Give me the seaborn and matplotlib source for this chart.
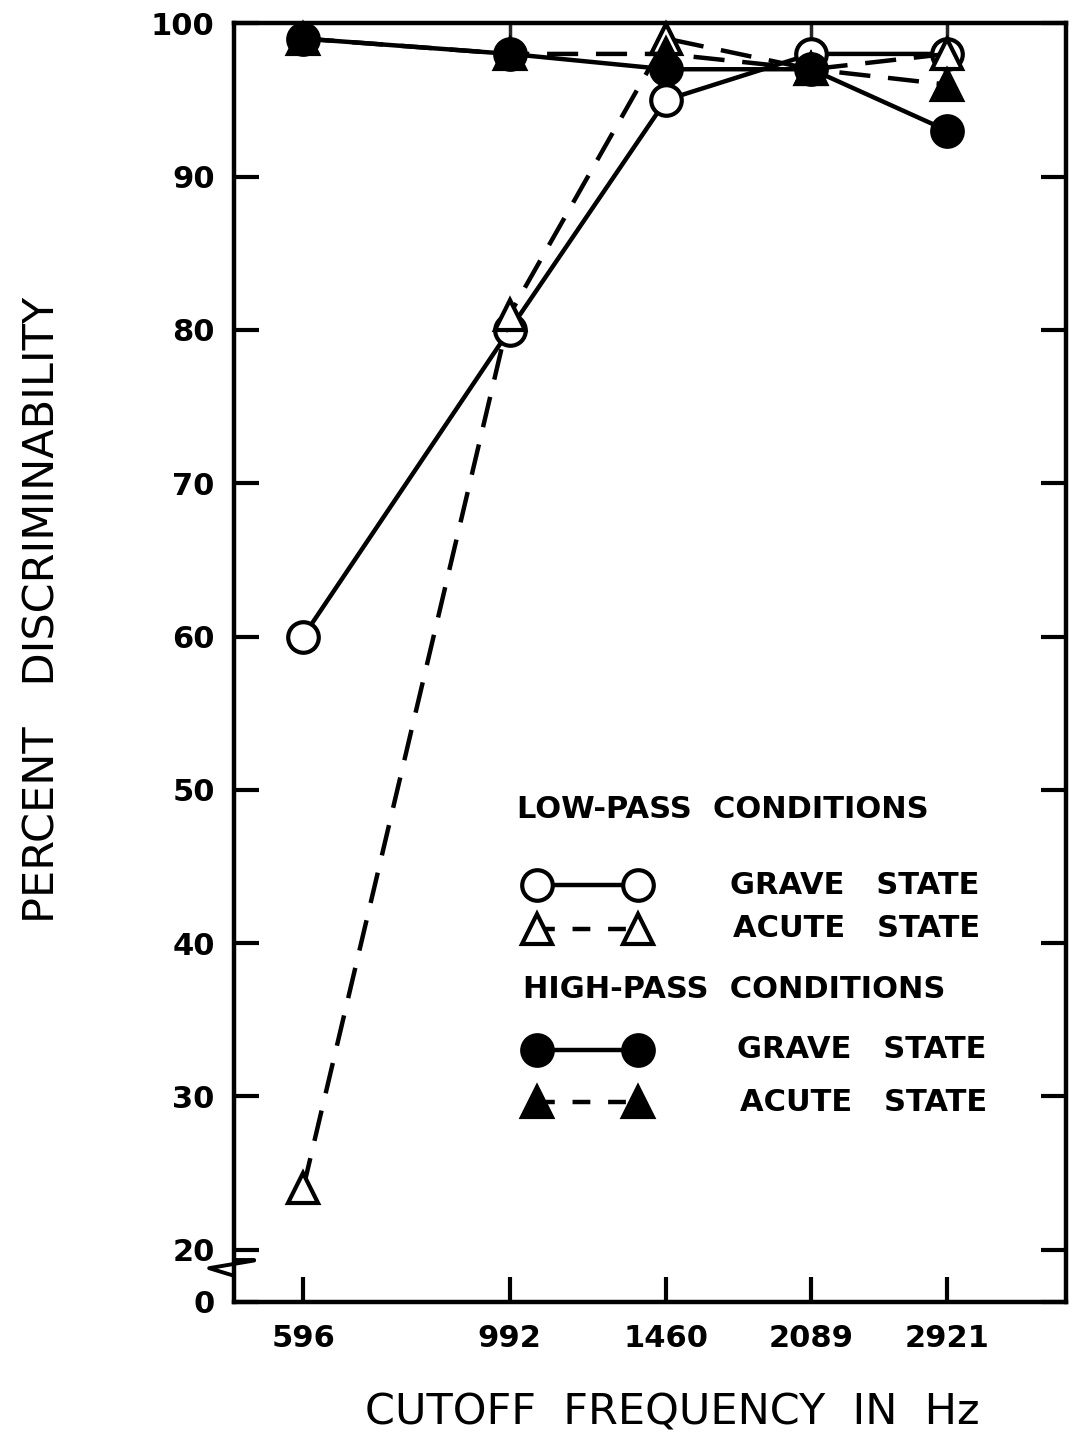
import numpy as np
import pandas as pd
import seaborn as sns
import matplotlib
matplotlib.use("Agg")
import matplotlib.pyplot as plt

# Cutoff frequencies (Hz) and percent discriminability per condition
freq = [596, 992, 1460, 2089, 2921]
low_grave = [60, 80, 95, 98, 98]
low_acute = [24, 81, 99, 97, 98]
high_grave = [99, 98, 97, 97, 93]
high_acute = [99, 98, 98, 97, 96]

y_ticks = [20, 30, 40, 50, 60, 70, 80, 90, 100]
y_zero_pos = 16.6  # where the broken axis shows "0"

sns.set_theme(style="white")
plt.rcParams["font.family"] = ["DejaVu Sans"]

fig = plt.figure(figsize=(10.74, 14.53), dpi=100)
ax = fig.add_axes([0.218, 0.104, 0.7746, 0.880])

LW = 3.2
MS = 22
DASH = (0, (7, 4))
series = [
    (low_grave, "o", "white", "-"),
    (low_acute, "^", "white", DASH),
    (high_grave, "o", "black", "-"),
    (high_acute, "^", "black", DASH),
]
for vals, mk, face, ls in series:
    df = pd.DataFrame({"freq": freq, "pct": vals})
    sns.lineplot(data=df, x="freq", y="pct", ax=ax, color="black",
                 linewidth=LW, linestyle=ls, marker=mk, markersize=MS,
                 markerfacecolor=face, markeredgecolor="black",
                 markeredgewidth=3, clip_on=False, zorder=3)

ax.set_xscale("log")
ax.set_xlim(502.6, 3917)
ax.set_ylim(y_zero_pos, 100)
ax.set_xticks(freq)
ax.set_xticklabels([str(f) for f in freq])
ax.xaxis.set_minor_locator(matplotlib.ticker.NullLocator())
ax.set_yticks([y_zero_pos] + y_ticks)
ax.set_yticklabels(["0"] + [str(v) for v in y_ticks])
ax.set_xlabel("")
ax.set_ylabel("")

for s in ax.spines.values():
    s.set_visible(True)
    s.set_color("black")
    s.set_linewidth(3.2)

ax.tick_params(axis="y", direction="in", length=18, width=3, left=True,
               right=True, labelsize=22, pad=14, colors="black")
ax.tick_params(axis="x", direction="in", length=18, width=3, bottom=True,
               top=False, labelsize=22, pad=16, colors="black")
for lab in ax.get_xticklabels() + ax.get_yticklabels():
    lab.set_fontweight("bold")

# short ticks hanging from the top border
top = ax.secondary_xaxis("top")
top.set_xticks(freq)
top.xaxis.set_minor_locator(matplotlib.ticker.NullLocator())
top.tick_params(direction="in", length=11, width=2.5, labeltop=False)
top.spines["top"].set_visible(False)

# axis break mark between 0 and 20
yt = ax.get_yaxis_transform()
ax.plot([0.0, 0.024], [19.3, 19.3], transform=yt, color="black",
        linewidth=2.8, clip_on=False)
ax.plot([0.024, -0.03, 0.0], [19.3, 18.8, 18.3], transform=yt,
        color="black", linewidth=2.8, clip_on=False)

# legend block
TF = dict(transform=ax.transAxes, fontsize=22, fontweight="bold",
          va="center", ha="left", color="black")
ax.text(0.340, 0.385, "LOW-PASS  CONDITIONS", **TF)
ax.text(0.347, 0.244, "HIGH-PASS  CONDITIONS", **TF)
keys = [
    (0.326, "o", "white", "-", 0.596),
    (0.292, "^", "white", (0, (4, 4)), 0.600),
    (0.197, "o", "black", "-", 0.605),
    (0.156, "^", "black", (0, (4, 4)), 0.608),
]
for ky, mk, face, ls, tx in keys:
    ax.plot([0.364, 0.486], [ky, ky], transform=ax.transAxes, color="black",
            linewidth=LW, linestyle=ls, marker=mk, markersize=MS,
            markerfacecolor=face, markeredgecolor="black", markeredgewidth=3)
    ax.text(tx, ky, "GRAVE   STATE" if mk == "o" else "ACUTE   STATE", **TF)

fig.text(0.040, 0.58, "PERCENT   DISCRIMINABILITY", rotation=90,
         fontsize=31, ha="center", va="center", color="black")
fig.text(0.626, 0.028, "CUTOFF  FREQUENCY  IN  Hz", fontsize=31,
         ha="center", va="center", color="black")

fig.savefig("out.png", dpi=100, facecolor="white")
